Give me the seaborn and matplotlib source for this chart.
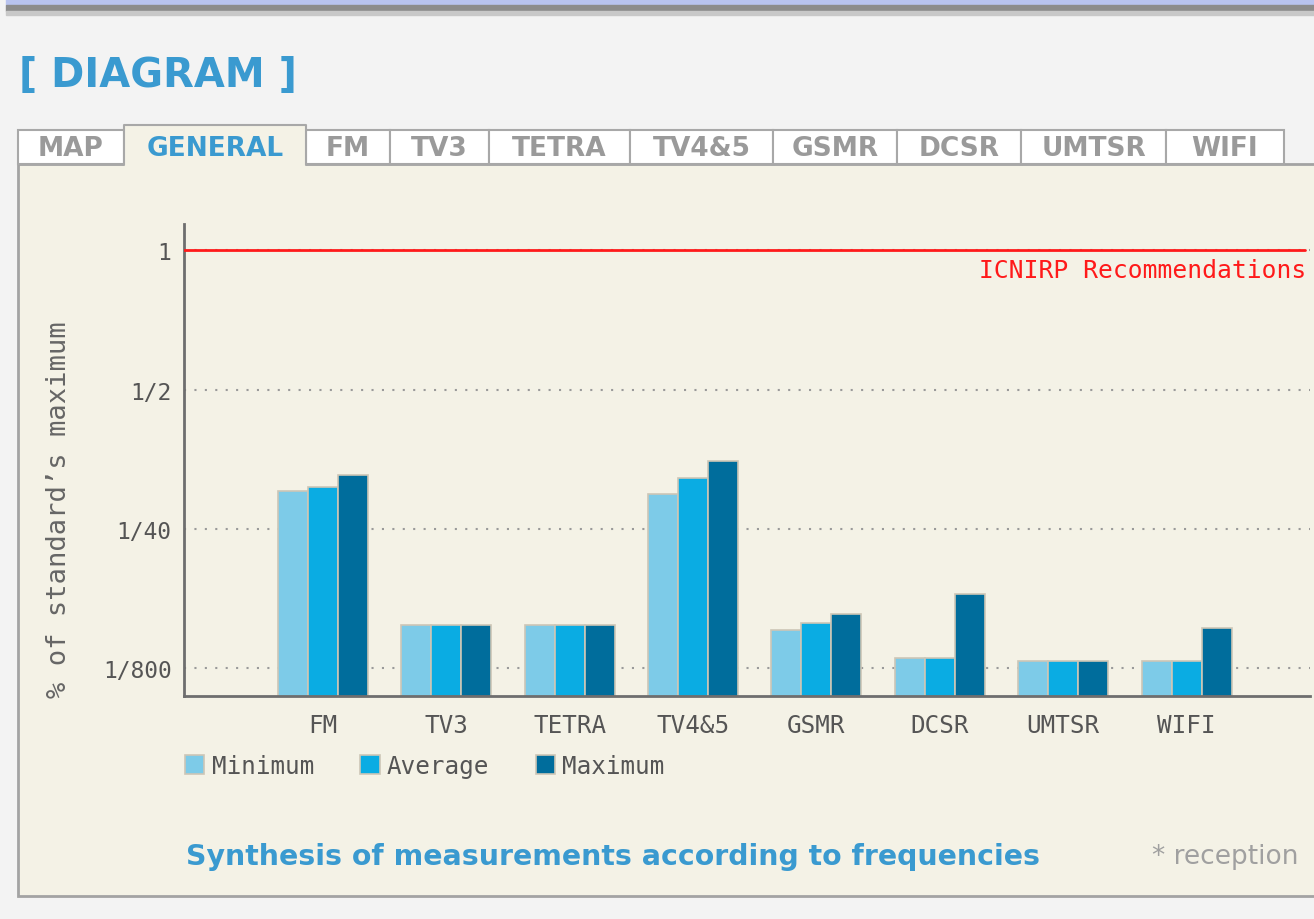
import numpy as np
import pandas as pd
import matplotlib
matplotlib.use("Agg")
import matplotlib.pyplot as plt
import seaborn as sns
from matplotlib.patches import Rectangle

# values as a fraction of the standard's maximum
bands = ["FM", "TV3", "TETRA", "TV4&5", "GSMR", "DCSR", "UMTSR", "WIFI"]
minimum = [0.057, 0.00315, 0.00315, 0.053, 0.00286, 0.00154, 0.00145, 0.00145]
average = [0.062, 0.00315, 0.00315, 0.075, 0.0033, 0.00154, 0.00145, 0.00145]
maximum = [0.080, 0.00315, 0.00315, 0.108, 0.0040, 0.0061, 0.00145, 0.00295]
stats = ["Minimum", "Average", "Maximum"]
tick_vals = [1 / 800, 1 / 40, 1 / 2, 1]
tick_labels = ["1/800", "1/40", "1/2", "1"]
tabs = ["MAP", "GENERAL", "FM", "TV3", "TETRA", "TV4&5", "GSMR", "DCSR", "UMTSR", "WIFI"]

df = pd.DataFrame({
    "band": bands * 3,
    "stat": [s for s in stats for _ in bands],
    "value": minimum + average + maximum,
})

sns.set_theme(style="white")
plt.rcParams["font.family"] = ["DejaVu Sans"]

W, H = 1314, 920
BEIGE = "#f4f2e6"
BLUE = "#3a9ad0"
GREY = "#6e6e6e"

fig = plt.figure(figsize=(W / 100, H / 100), dpi=100)
fig.patch.set_facecolor("#f3f3f3")

# page decoration in pixel coordinates
bg = fig.add_axes([0, 0, 1, 1], zorder=0)
bg.set_xlim(0, W)
bg.set_ylim(H, 0)
bg.axis("off")
bg.add_patch(Rectangle((6, 0), W, 6, color="#b8c3ef"))
bg.add_patch(Rectangle((6, 6), W, 6, color="#8c8c8c"))
bg.add_patch(Rectangle((6, 12), W, 4, color="#c8c8c8"))
bg.text(19, 76, "[ DIAGRAM ]", color=BLUE, fontsize=28.8, fontweight="bold", va="center")

bg.add_patch(Rectangle((18, 165), W, 732, fc=BEIGE, ec="#a3a3a3", lw=2))

tab_edges = [18, 124, 306, 390, 489, 630, 773, 897, 1021, 1166, 1284]
for i, name in enumerate(tabs):
    x0, x1 = tab_edges[i], tab_edges[i + 1]
    if name == "GENERAL":
        bg.add_patch(Rectangle((x0, 126), x1 - x0, 41, fc=BEIGE, ec="none", zorder=3))
        bg.plot([x0, x0, x1, x1], [166, 126, 126, 166], color="#a8a8a8", lw=1.5, zorder=4)
        col = BLUE
    else:
        bg.add_patch(Rectangle((x0, 131), x1 - x0, 34, fc="white", ec="#a8a8a8", lw=1.5))
        col = "#9a9a9a"
    bg.text((x0 + x1) / 2, 149, name, color=col, fontsize=19, fontweight="bold",
            ha="center", va="center", zorder=5)

bg.text(186, 857, "Synthesis of measurements according to frequencies", color=BLUE,
        fontsize=20.4, fontweight="bold", va="center")
bg.text(1298, 857, "* reception", color="#a0a0a0", fontsize=19, ha="right", va="center")

# chart
ax = fig.add_axes([184 / W, 1 - 697 / H, (1310 - 184) / W, (697 - 225) / H], zorder=1)
ax.set_facecolor("none")

logt = np.log(tick_vals)
lev = np.arange(len(tick_vals), dtype=float)


def fwd(v):
    L = np.log(np.clip(np.asarray(v, dtype=float), 1e-12, None))
    out = np.interp(L, logt, lev)
    out = np.where(L < logt[0], (L - logt[0]) / (logt[1] - logt[0]), out)
    out = np.where(L > logt[-1], lev[-1] + (L - logt[-1]) / (logt[-1] - logt[-2]), out)
    return out


def inv(y):
    y = np.asarray(y, dtype=float)
    L = np.interp(y, lev, logt)
    L = np.where(y < 0, logt[0] + y * (logt[1] - logt[0]), L)
    L = np.where(y > lev[-1], logt[-1] + (y - lev[-1]) * (logt[-1] - logt[-2]), L)
    return np.exp(L)


ax.set_yscale("function", functions=(fwd, inv))

sns.barplot(data=df, x="band", y="value", hue="stat", hue_order=stats,
            palette=["#7dcbe8", "#0aace3", "#006d9c"], saturation=1, width=0.73, gap=0,
            edgecolor="#cdc6b6", linewidth=1.2, ax=ax, zorder=2)

ax.set_xlim(-1.125, 8.0)
ax.set_ylim(float(inv(-0.2)), float(inv(3.19)))
ax.set_yticks(tick_vals)
ax.set_yticklabels(tick_labels)
ax.yaxis.set_minor_locator(matplotlib.ticker.NullLocator())
ax.set_axisbelow(True)
ax.yaxis.grid(True, color="#9a9a9a", linestyle=(0, (1, 4)), lw=1.5)
ax.axhline(1, color="#ff1a1a", lw=2, xmax=(1305 - 184) / (1310 - 184), zorder=3)

for s in ["top", "right"]:
    ax.spines[s].set_visible(False)
for s in ["left", "bottom"]:
    ax.spines[s].set_color(GREY)
    ax.spines[s].set_linewidth(2)

mono = "DejaVu Sans Mono"
ax.tick_params(axis="y", length=6, width=1.5, color=GREY, pad=3,
               labelsize=16.5, labelcolor="#555555")
ax.tick_params(axis="x", length=0, pad=12, labelsize=17.5, labelcolor="#555555")
for lab in ax.get_xticklabels() + ax.get_yticklabels():
    lab.set_family(mono)
ax.set_xlabel("")
ax.set_ylabel("% of standard\u2019s maximum", family=mono, fontsize=19.5, color="#666666")
ax.yaxis.set_label_coords(-0.0995, 0.396)

fig.text(1306 / W, 1 - 271 / H, "ICNIRP Recommendations", color="#ff1a1a",
         family=mono, fontsize=17.7, ha="right", va="center")

handles, labels = ax.get_legend_handles_labels()
ax.legend(handles, labels, loc="upper left", bbox_to_anchor=(185 / W, 1 - 755 / H),
          bbox_transform=fig.transFigure, ncol=3, frameon=False,
          prop={"family": mono, "size": 17.5}, labelcolor="#555555",
          handlelength=0.8, handleheight=0.8, handletextpad=0.3, columnspacing=1.9,
          borderaxespad=0, borderpad=0)

fig.savefig("out.png", dpi=100, facecolor=fig.get_facecolor())
